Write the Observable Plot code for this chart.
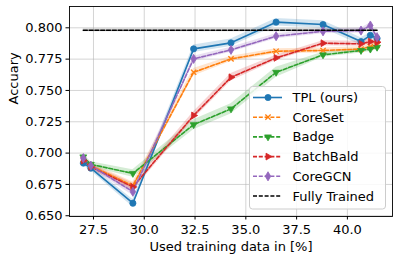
<!DOCTYPE html>
<html>
<head>
<meta charset="utf-8">
<script src="https://cdn.jsdelivr.net/npm/d3@7"></script>
<script src="https://cdn.jsdelivr.net/npm/@observablehq/plot@0.6"></script>
<style>
  html, body { margin: 0; padding: 0; background: white; }
  svg { display: block; }
</style>
</head>
<body>
<div id="chart"></div>
<script>
// ---- data ----
const xs = [27.0, 27.37, 29.44, 32.43, 34.27, 36.49, 38.80, 40.67, 41.13, 41.46];
const seriesNames = ["TPL (ours)", "CoreSet", "Badge", "BatchBald", "CoreGCN"];
const tplY      = [0.692, 0.688, 0.660, 0.7832, 0.788, 0.8045, 0.8026, 0.789, 0.794, 0.7915];
const coresetY  = [0.695, 0.690, 0.674, 0.7645, 0.7752, 0.7813, 0.7819, 0.783, 0.785, 0.786];
const badgeY    = [0.697, 0.691, 0.6838, 0.7227, 0.7353, 0.7645, 0.7784, 0.7819, 0.783, 0.7845];
const batchY    = [0.694, 0.689, 0.673, 0.730, 0.7605, 0.776, 0.7877, 0.7872, 0.789, 0.7885];
const coregcnY  = [0.696, 0.690, 0.6692, 0.7752, 0.7824, 0.7933, 0.7972, 0.7978, 0.8018, 0.7925];
// band half-widths read from the shaded regions
const tplErr     = [0.002, 0.002, 0.003, 0.003, 0.003, 0.003, 0.003, 0.003, 0.002, 0.002];
const coresetErr = [0.002, 0.002, 0.003, 0.003, 0.002, 0.002, 0.002, 0.002, 0.002, 0.002];
const badgeErr   = [0.002, 0.002, 0.003, 0.004, 0.004, 0.004, 0.002, 0.002, 0.002, 0.002];
const batchErr   = [0.002, 0.002, 0.003, 0.003, 0.003, 0.002, 0.002, 0.002, 0.002, 0.002];
const coregcnErr = [0.002, 0.002, 0.003, 0.002, 0.002, 0.002, 0.002, 0.002, 0.002, 0.002];
const fullX = [27.0, 41.46];
const fullY = [0.798, 0.798];
const fullErr = [0.0012, 0.0012];
const xTicks = [27.5, 30.0, 32.5, 35.0, 37.5, 40.0];
const yTicks = [0.650, 0.675, 0.700, 0.725, 0.750, 0.775, 0.800];
const xLabel = "Used training data in [%]";
const yLabel = "Accuary";
const legendNames = ["TPL (ours)", "CoreSet", "Badge", "BatchBald", "CoreGCN", "Fully Trained"];

// ---- styles ----
const FS = 13;
const DASH = "4,1.8";
const colors = ["#1f77b4", "#ff7f0e", "#2ca02c", "#d62728", "#9467bd"];
const triDown = { draw(c, size) { const r = Math.sqrt(size) * 0.62; c.moveTo(0, r); c.lineTo(-r * 0.866, -r / 2); c.lineTo(r * 0.866, -r / 2); c.closePath(); } };
const triRight = { draw(c, size) { const r = Math.sqrt(size) * 0.62; c.moveTo(r, 0); c.lineTo(-r / 2, -r * 0.866); c.lineTo(-r / 2, r * 0.866); c.closePath(); } };
const thinDiamond = { draw(c, size) { const r = Math.sqrt(size) * 0.68; c.moveTo(0, -r); c.lineTo(r * 0.6, 0); c.lineTo(0, r); c.lineTo(-r * 0.6, 0); c.closePath(); } };
const timesSym = { draw(c, size) { const r = Math.sqrt(size) * 0.45; c.moveTo(-r, -r); c.lineTo(r, r); c.moveTo(-r, r); c.lineTo(r, -r); } };
const circleSym = { draw(c, size) { const r = Math.sqrt(size / Math.PI); c.moveTo(r, 0); c.arc(0, 0, r, 0, 2 * Math.PI); } };
const symbols = [circleSym, timesSym, triDown, triRight, thinDiamond];
const dashes = [null, DASH, DASH, DASH, DASH];
const radii = [3.1, 3.3, 3.6, 3.6, 3.8];

const allY = [tplY, coresetY, badgeY, batchY, coregcnY];
const allErr = [tplErr, coresetErr, badgeErr, batchErr, coregcnErr];

const rows = [];
allY.forEach((ys, s) => ys.forEach((y, i) => rows.push({ s, x: xs[i], y, lo: y - allErr[s][i], hi: y + allErr[s][i] })));
const fullRows = fullX.map((x, i) => ({ x, y: fullY[i], lo: fullY[i] - fullErr[i], hi: fullY[i] + fullErr[i] }));

const bandMarks = seriesNames.map((n, s) =>
  Plot.areaY(rows.filter(d => d.s === s), { x: "x", y1: "lo", y2: "hi", fill: colors[s], fillOpacity: 0.2 }));
const lineMarks = seriesNames.map((n, s) =>
  Plot.line(rows.filter(d => d.s === s), { x: "x", y: "y", stroke: colors[s], strokeWidth: 1.6, strokeDasharray: dashes[s] }));
const dotMarks = seriesNames.map((n, s) =>
  s === 1
    ? Plot.dot(rows.filter(d => d.s === s), { x: "x", y: "y", symbol: symbols[s], r: radii[s], stroke: colors[s], strokeWidth: 1.3, fill: "none" })
    : Plot.dot(rows.filter(d => d.s === s), { x: "x", y: "y", symbol: symbols[s], r: radii[s], fill: colors[s], stroke: colors[s], strokeWidth: 0.8 }));

const chart = Plot.plot({
  width: 399, height: 260,
  marginLeft: 69, marginRight: 7, marginTop: 6, marginBottom: 44,
  style: { fontFamily: "DejaVu Sans", fontSize: FS + "px", color: "black", background: "white" },
  x: { domain: [26.32, 42.22] },
  y: { domain: [0.6494, 0.817] },
  marks: [
    Plot.gridX(xTicks, { stroke: "#b0b0b0", strokeOpacity: 0.55, strokeWidth: 1 }),
    Plot.gridY(yTicks, { stroke: "#b0b0b0", strokeOpacity: 0.55, strokeWidth: 1 }),
    Plot.areaY(fullRows, { x: "x", y1: "lo", y2: "hi", fill: "#808080", fillOpacity: 0.25 }),
    ...bandMarks,
    ...lineMarks,
    ...dotMarks,
    Plot.line(fullRows, { x: "x", y: "y", stroke: "black", strokeWidth: 1.6, strokeDasharray: DASH }),
    Plot.axisX(xTicks, { tickSize: 3.5, tickPadding: 4.5, tickFormat: d => d.toFixed(1), label: null, fontSize: FS }),
    Plot.axisY(yTicks, { tickSize: 3.5, tickPadding: 3.5, tickFormat: d => d.toFixed(3), label: null, fontSize: FS }),
    Plot.text([xLabel], { text: d => d, frameAnchor: "bottom", dy: 34.5, lineAnchor: "bottom", fontSize: FS }),
    Plot.text([yLabel], { text: d => d, frameAnchor: "left", dx: -55.7, dy: -7, rotate: -90, fontSize: FS }),
    Plot.frame({ stroke: "black", strokeWidth: 0.9 })
  ]
});

// legend (pixel layout, not data)
const svg = d3.select(chart);
const lg = svg.append("g").attr("font-family", "DejaVu Sans").attr("font-size", FS).attr("text-anchor", "start");
lg.append("rect").attr("x", 249.5).attr("y", 86.5).attr("width", 136).attr("height", 122.5)
  .attr("rx", 3).attr("ry", 3)
  .style("fill", "white").style("fill-opacity", 0.85).style("stroke", "#cccccc").style("stroke-width", 1);
legendNames.forEach((name, i) => {
  const cy = 97.5 + i * 19.7;
  const col = i < 5 ? colors[i] : "black";
  lg.append("line").attr("x1", 253).attr("x2", 282).attr("y1", cy).attr("y2", cy)
    .attr("stroke", col).attr("stroke-width", 1.6)
    .attr("stroke-dasharray", i === 0 ? null : DASH);
  if (i < 5) {
    const p = d3.path();
    symbols[i].draw(p, Math.PI * radii[i] * radii[i]);
    lg.append("path").attr("d", p.toString()).attr("transform", `translate(268,${cy})`)
      .attr("fill", i === 1 ? "none" : col).attr("stroke", col).attr("stroke-width", i === 1 ? 1.3 : 0.8);
  }
  lg.append("text").attr("x", 292.5).attr("y", cy).attr("dy", "0.35em").attr("fill", "black").text(name);
});

document.getElementById("chart").appendChild(chart);
</script>
</body>
</html>
